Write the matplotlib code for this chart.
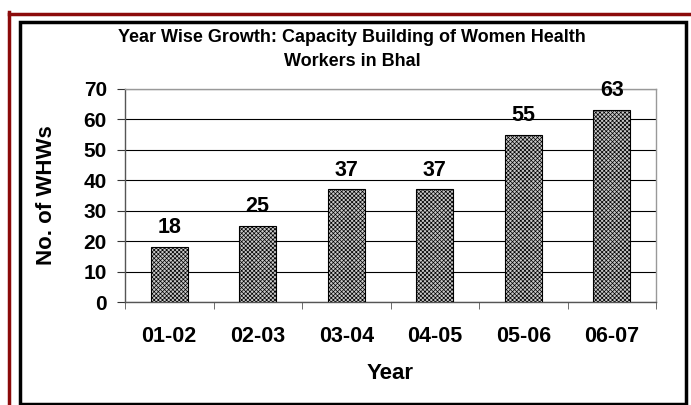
import matplotlib
matplotlib.use("Agg")
import matplotlib.pyplot as plt
from matplotlib.patches import Rectangle
from matplotlib.lines import Line2D

years = ["01-02", "02-03", "03-04", "04-05", "05-06", "06-07"]
whws = [18, 25, 37, 37, 55, 63]
yticks = [0, 10, 20, 30, 40, 50, 60, 70]

plt.rcParams['font.family'] = ['Liberation Sans', 'DejaVu Sans']
plt.rcParams['hatch.linewidth'] = 0.5

W, H = 691, 405
fig = plt.figure(figsize=(W/100, H/100), dpi=100)

# outer maroon and black frames
fig.add_artist(Line2D([8.5/W, 8.5/W], [0, 1 - 12/H], color='#8b0a0a', lw=2.5, transform=fig.transFigure))
fig.add_artist(Line2D([8.5/W, 1], [1 - 13.5/H, 1 - 13.5/H], color='#8b0a0a', lw=2.5, transform=fig.transFigure))
fig.add_artist(Rectangle((19.5/W, 1.5/H), (686 - 19.5)/W, (381.5)/H, fill=False,
                         edgecolor='black', lw=2.5, transform=fig.transFigure))

left, right, top, bottom = 125, 656, 89, 302
ax = fig.add_axes([left/W, 1 - bottom/H, (right-left)/W, (bottom-top)/H])

x = list(range(len(years)))
bars = ax.bar(x, whws, width=0.42, color='#c8c8c8', edgecolor='black', hatch='xxxxxxxx', lw=0.8, zorder=3)
for xi, v in zip(x, whws):
    ax.annotate(str(v), (xi, v), xytext=(0, 10), textcoords='offset points',
                ha='center', va='baseline', fontsize=15.5, fontweight='bold', zorder=4)

ax.set_xlim(-0.5, len(years) - 0.5)
ax.set_ylim(0, 70)
ax.set_yticks(yticks)
ax.set_yticklabels([str(t) for t in yticks], fontsize=15, fontweight='bold')
ax.set_xticks(x)
ax.set_xticklabels(years, fontsize=15.5, fontweight='bold')
ax.tick_params(axis='x', length=0, pad=17.5)
ax.tick_params(axis='y', length=6, color='#333333', pad=7)
ax.set_xticks([i - 0.5 for i in range(len(years) + 1)], minor=True)
ax.tick_params(axis='x', which='minor', length=5, color='#555555', direction='out')
ax.grid(axis='y', color='black', lw=0.8, zorder=0)
for s in ['top', 'right']:
    ax.spines[s].set_color('#999999')
ax.spines['left'].set_color('#555555')
ax.spines['bottom'].set_color('#555555')
for s in ax.spines.values():
    s.set_linewidth(1)

ax.set_xlabel("Year", fontsize=16, fontweight='bold', labelpad=11)
ax.set_ylabel("No. of WHWs", fontsize=16, fontweight='bold', labelpad=19)

fig.text(352/W, 1 - 38/H, "Year Wise Growth: Capacity Building of Women Health",
         ha='center', va='center', fontsize=13, fontweight='bold')
fig.text(352/W, 1 - 61/H, "Workers in Bhal", ha='center', va='center', fontsize=13, fontweight='bold')

fig.savefig("out.png", dpi=100)
